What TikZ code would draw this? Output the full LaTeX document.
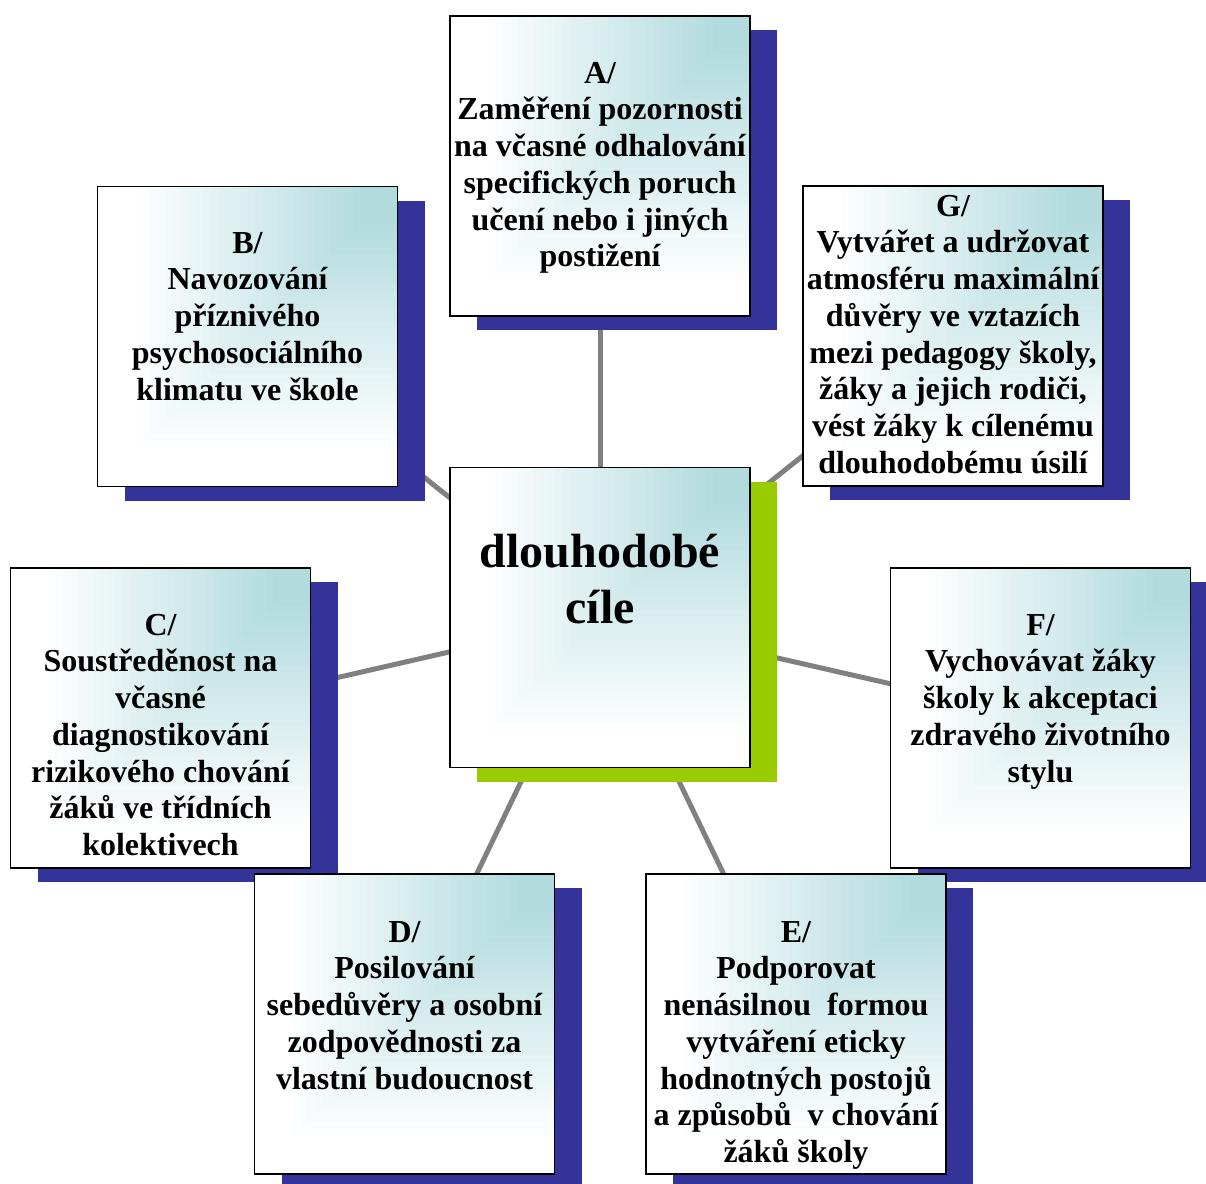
\documentclass[tikz,border=0pt]{standalone}
\usepackage{fontspec}
\setmainfont{Liberation Serif}
\usetikzlibrary{shadows,backgrounds}
\definecolor{shblue}{RGB}{51,51,153}
\definecolor{shgreen}{RGB}{153,204,0}
\definecolor{conngray}{RGB}{128,128,128}
\definecolor{boxcyan}{RGB}{178,219,222}
\newcommand\goalfont{\fontsize{32}{36.7}\selectfont\bfseries}
\newcommand\centerfont{\fontsize{48}{56}\selectfont\bfseries}
\tikzset{
  cornergrad/.style={path picture={
    \foreach \i in {0,...,40}{
      \pgfmathsetmacro\dd{300*(1-\i/40)}
      \pgfmathsetmacro\pp{max(0,min(100,(0.9-(1-\i/40))/0.78*100))}
      \fill[boxcyan!\pp!white]
        ([xshift=-\dd pt, yshift=-\dd pt]path picture bounding box.north east)
        rectangle (path picture bounding box.north east);
    }}},
  goalbox/.style={draw=black, line width=1.6pt, minimum width=300pt, minimum height=300pt,
    inner sep=0pt, outer sep=0pt, fill=white, cornergrad,
    general shadow={fill=#1, shadow xshift=27pt, shadow yshift=-14pt}},
  goalbox/.default=shblue,
  goaltext/.style={anchor=north, align=center, inner sep=0pt, font=\goalfont},
  centertext/.style={anchor=north, align=center, inner sep=0pt, font=\centerfont},
  conn/.style={draw=conngray, line width=5pt}
}
\begin{document}
\lineskiplimit=-100pt\relax
\begin{tikzpicture}[x=1pt,y=-1pt]
\useasboundingbox (0,0) rectangle (1206,1183);
% boxes
\node[goalbox] (A) at (600,166) {};
\node[goalbox] (B) at (247.5,336.5) {};
\node[goalbox] (G) at (953,336) {};
\node[goalbox=shgreen] (ctr) at (600,617.5) {};
\node[goalbox] (C) at (160.5,718) {};
\node[goalbox] (F) at (1040.5,718) {};
\node[goalbox] (D) at (404.5,1024) {};
\node[goalbox] (E) at (796,1024) {};
% connectors
\begin{scope}[on background layer]
\foreach \n in {A,B,G,C,F,D,E} \draw[conn] (ctr.center) -- (\n.center);
\end{scope}
% texts
\node[goaltext] (tA) at (600,53) {\rule{0pt}{30pt}A/\\Zaměření pozornosti\\na včasné odhalování\\specifických poruch\\učení nebo i jiných\\postižení};
\node[goaltext] (tB) at (247.5,223) {\rule{0pt}{30pt}B/\\Navozování\\příznivého\\psychosociálního\\klimatu ve škole};
\node[goaltext] (tG) at (953,186) {\rule{0pt}{30pt}G/\\Vytvářet a udržovat\\atmosféru maximální\\důvěry ve vztazích\\mezi pedagogy školy,\\žáky a jejich rodiči,\\vést žáky k cílenému\\dlouhodobému úsilí};
\node[centertext] (tctr) at (600,522) {\rule{0pt}{45pt}dlouhodobé\\cíle};
\node[goaltext] (tC) at (160.5,605) {\rule{0pt}{30pt}C/\\Soustředěnost na\\včasné\\diagnostikování\\rizikového chování\\žáků ve třídních\\kolektivech};
\node[goaltext] (tF) at (1040.5,605) {\rule{0pt}{30pt}F/\\Vychovávat žáky\\školy k akceptaci\\zdravého životního\\stylu};
\node[goaltext] (tD) at (404.5,912) {\rule{0pt}{30pt}D/\\Posilování\\sebedůvěry a osobní\\zodpovědnosti za\\vlastní budoucnost};
\node[goaltext] (tE) at (796,912) {\rule{0pt}{30pt}E/\\Podporovat\\nenásilnou~ formou\\vytváření eticky\\hodnotných postojů\\a způsobů~ v chování\\žáků školy};
\end{tikzpicture}
\end{document}
